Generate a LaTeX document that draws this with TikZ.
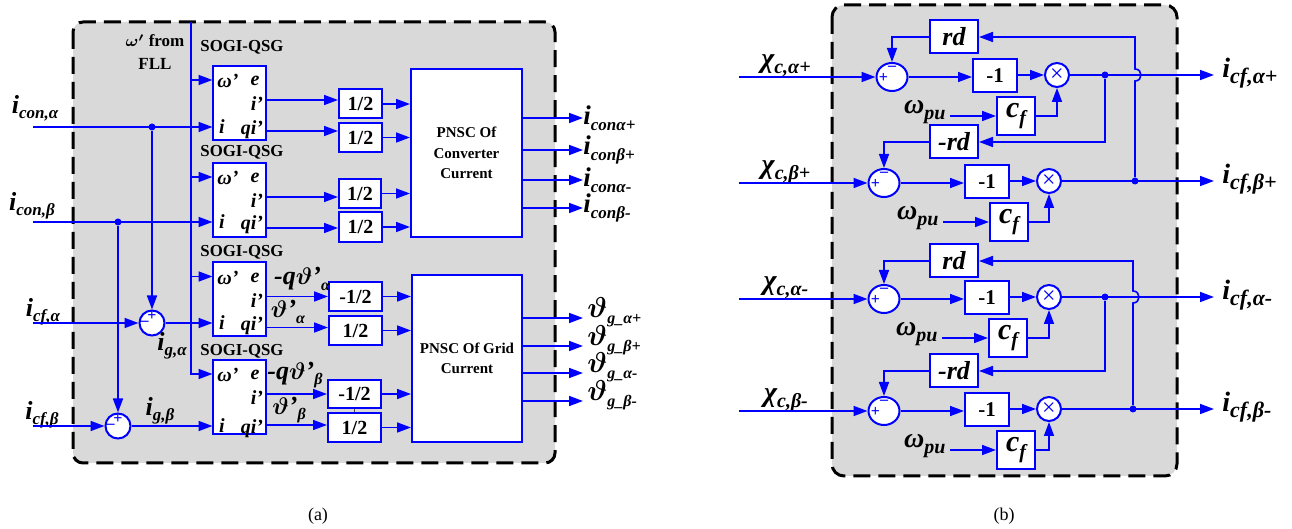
\documentclass[tikz,border=0pt]{standalone}
\usepackage{fontspec}
\setmainfont{Liberation Serif}
\usepackage{amsmath}
\usetikzlibrary{arrows.meta, calc, shapes.geometric}
\definecolor{SogiBlue}{RGB}{0,0,255}
\definecolor{PanelGrey}{RGB}{217,217,217}
\newcommand{\fs}[1]{\fontsize{#1}{#1}\selectfont}
% label with a lowered subscript: main, subscript, subscript size
\newcommand{\vsub}[3]{#1\raisebox{-0.45ex}{\fs{#3}#2}}
\newcommand{\vth}{$\boldsymbol{\vartheta}$}

\begin{document}
\begin{tikzpicture}[x=0.5pt, y=-0.5pt,
    >={Triangle[length=7pt, width=5pt]},
    wire/.style={SogiBlue, line width=0.8pt},
    sz/.style 2 args={minimum width=#1*0.5pt, minimum height=#2*0.5pt},
    blk/.style={draw=SogiBlue, fill=white, line width=1pt, inner sep=0pt},
    panel/.style={draw=black, fill=PanelGrey, line width=1.5pt, rounded corners=5pt, dash pattern=on 8.5pt off 4pt},
    lbl/.style={inner sep=0pt, font=\fs{13}\bfseries\itshape},
    port/.style={inner sep=0pt, font=\fs{10}\bfseries\itshape},
    half/.style={blk, font=\fs{10}\bfseries},
    jdot/.style={circle, fill=SogiBlue, inner sep=0pt, minimum size=3.5pt},
    sumL/.style={blk, circle, sz={25}{25}},
    sumR/.style={blk, ellipse, sz={31}{28}},
    mult/.style={blk, circle, sz={24}{24}},
    sign/.style={inner sep=0pt, text=SogiBlue, font=\fs{8}\bfseries},
]
\useasboundingbox (0,0) rectangle (1292,529);

% ---------------- (a) ----------------
\draw[panel] (73,22) rectangle (555,463);

% omega' bus from the FLL
\node[font=\fontsize{8.5}{11.5}\selectfont\bfseries, align=center, inner sep=0pt] (fll) at (155,52) {$\boldsymbol{\omega'}$ from\\FLL};
\coordinate (busTop) at (191,22);

% SOGI-QSG blocks
\foreach \nm/\cy/\ly/\iy in {A/103/47/127, B/200/152/222, C/299.5/252/323, D/397/351/426} {
  \node[blk, sz={53}{74}] (sogi\nm) at (239,\cy) {};
  \node[font=\fs{8.4}\bfseries, inner sep=0pt] (sogiT\nm) at (242,\ly) {SOGI-QSG};
  \node[port] (pw\nm) at (228,\cy-22) {ω'};
  \node[port] (pe\nm) at (255,\cy-22) {e};
  \node[port] (pip\nm) at (257,\cy+1) {i'};
  \node[port] (pi\nm) at (222,\iy) {i};
  \node[port] (pqi\nm) at (252,\iy+3) {qi'};
  \coordinate (win\nm) at (212.5,\cy-23);
  \coordinate (iin\nm) at (212.5,\iy);
  \coordinate (ip\nm) at (265.5,\cy-3);
  \coordinate (qi\nm) at (265.5,\cy+28);
}
\draw[wire,->] (busTop) |- (winD);
\foreach \nm in {A,B,C} \draw[wire,->] (busTop |- win\nm) -- (win\nm);

% gains
\node[half, sz={43}{29}] (hA1) at (360.5,104) {1/2};
\node[half, sz={43}{29}] (hA2) at (360.5,137.5) {1/2};
\node[half, sz={42}{29}] (hB1) at (360,193.5) {1/2};
\node[half, sz={43}{30}] (hB2) at (360.5,227) {1/2};
\node[half, sz={53}{29}] (hC1) at (355.5,296.5) {-1/2};
\node[half, sz={53}{29}] (hC2) at (355.5,330.5) {1/2};
\node[half, sz={53}{28}] (hD1) at (354.5,394) {-1/2};
\node[half, sz={53}{29}] (hD2) at (354.5,427.5) {1/2};
\draw[gray!60!black, line width=0.5pt] (hD1.south) -- (hD2.north);
\foreach \nm in {A,B,C,D} {
  \draw[wire,->] (ip\nm) -- (ip\nm -| h\nm1.west);
  \draw[wire,->] (qi\nm) -- (qi\nm -| h\nm2.west);
}

% sequence calculation
\node[blk, sz={111}{168}, align=center, font=\fontsize{7.5}{10.2}\selectfont\bfseries] (pnscCon) at (466.5,153) {PNSC Of\\Converter\\Current};
\node[blk, sz={110}{167}, align=center, font=\fontsize{7.5}{10}\selectfont\bfseries] (pnscGrid) at (467,358.5) {PNSC Of Grid\\Current};
\foreach \nm in {A,B} \foreach \j in {1,2}
  \draw[wire,->] (h\nm\j.east) -- (h\nm\j.east -| pnscCon.west);
\foreach \nm in {C,D} \foreach \j in {1,2}
  \draw[wire,->] (h\nm\j.east) -- (h\nm\j.east -| pnscGrid.west);

\node[lbl, anchor=west, font=\fs{13.5}\bfseries\itshape] (oC1) at (583,118) {\vsub{i}{conα+}{8.5}};
\node[lbl, anchor=west, font=\fs{13.5}\bfseries\itshape] (oC2) at (583,150) {\vsub{i}{conβ+}{8.5}};
\node[lbl, anchor=west, font=\fs{13.5}\bfseries\itshape] (oC3) at (583,180) {\vsub{i}{conα-}{8.5}};
\node[lbl, anchor=west, font=\fs{13.5}\bfseries\itshape] (oC4) at (583,208) {\vsub{i}{conβ-}{8.5}};
\foreach \j in {1,...,4} \draw[wire,->] (pnscCon.east |- oC\j.west) -- (oC\j.west);

\node[lbl, anchor=base west, font=\fs{14}\bfseries\itshape] (oG1) at (587,318) {\vsub{\vth}{g\_α+}{8}};
\node[lbl, anchor=base west, font=\fs{14}\bfseries\itshape] (oG2) at (587,346) {\vsub{\vth}{g\_β+}{8}};
\node[lbl, anchor=base west, font=\fs{14}\bfseries\itshape] (oG3) at (587,373) {\vsub{\vth}{g\_α-}{8}};
\node[lbl, anchor=base west, font=\fs{14}\bfseries\itshape] (oG4) at (587,401) {\vsub{\vth}{g\_β-}{8}};
\foreach \j in {1,...,4} \draw[wire,->] (pnscGrid.east |- oG\j.base) -- ([xshift=-2pt]oG\j.base west);

% inputs and grid-current subtraction
\node[lbl] (lCa) at (35,108) {\vsub{i}{con,α}{8.5}};
\node[lbl] (lCb) at (32,206) {\vsub{i}{con,β}{8.5}};
\node[lbl] (lFa) at (43,312) {\vsub{i}{cf,α}{8.5}};
\node[lbl] (lFb) at (42,415) {\vsub{i}{cf,β}{8.5}};
\coordinate (inCa) at (33,127);
\coordinate (inCb) at (33,222);
\coordinate (inFa) at (33,323);
\coordinate (inFb) at (33,426);
\node[sumL] (sg1) at (152,323) {};
\node[sumL] (sg2) at (118,426) {};
\node[sign] (sg1p) at ($(sg1.north)+(0,6)$) {+};
\node[sign] (sg1m) at ($(sg1.west)+(6,0)$) {--};
\node[sign] (sg2p) at ($(sg2.north)+(0,6)$) {+};
\node[sign] (sg2m) at ($(sg2.west)+(6,0)$) {--};
\node[jdot] (dCa) at (152,127) {};
\node[jdot] (dCb) at (118,222) {};
\draw[wire,->] (inCa) -- (iinA);
\draw[wire,->] (inCb) -- (iinB);
\draw[wire,->] (dCa) -- (sg1.north);
\draw[wire,->] (dCb) -- (sg2.north);
\draw[wire,->] (inFa) -- (sg1.west);
\draw[wire,->] (inFb) -- (sg2.west);
\draw[wire,->] (sg1.east) -- (iinC);
\draw[wire,->] (sg2.east) -- (iinD);
\node[lbl] (lga) at (172,346) {\vsub{i}{g,α}{8.5}};
\node[lbl] (lgb) at (160,411) {\vsub{i}{g,β}{8.5}};

\node[lbl, font=\fs{13}\bfseries\itshape] (qa) at (302,279) {\vsub{-q\vth'}{α}{8}};
\node[lbl, font=\fs{13}\bfseries\itshape] (va) at (288,312) {\vsub{\vth'}{α}{8}};
\node[lbl, font=\fs{13}\bfseries\itshape] (qb) at (295,375) {\vsub{-q\vth'}{β}{8}};
\node[lbl, font=\fs{13}\bfseries\itshape] (vb) at (289,410) {\vsub{\vth'}{β}{8}};

% ---------------- (b) ----------------
\draw[panel, rounded corners=6pt] (832,5) rectangle (1177,476);

\foreach \k/\yy/\dx/\cfx/\sb/\fbl/\fby in {1/77/8/1016/α+/rd/37, 2/183/0/1009/β+/-rd/142, 3/299/0/1008/α-/rd/261, 4/411/0/1016/β-/-rd/371} {
  \node[sumR] (rs\k) at (884+\dx,\yy) {};
  \node[sign] (rsp\k) at ($(rs\k.west)+(8,1)$) {+};
  \node[sign] (rsm\k) at ($(rs\k.north)+(0,6)$) {--};
  \node[blk, sz={44}{33}, font=\fs{10.5}\bfseries] (neg\k) at (987+\dx,\yy-1) {-1};
  \node[mult] (mu\k) at (1049+\dx,\yy-2) {};
  \node[sign, font=\fs{12}] (mux\k) at (mu\k) {×};
  \node[blk, sz={38}{38}, font=\fs{15}\bfseries\itshape] (cf\k) at (\cfx,\yy+39) {\vsub{c}{f}{10}};
  \node[lbl, anchor=east, font=\fs{14}\bfseries\itshape] (wpu\k) at (\cfx-70,\yy+35) {\vsub{ω}{pu}{10}};
  \coordinate (ws\k) at (\cfx-66,\yy+39);
  \node[lbl, font=\fs{14}\bfseries\itshape] (chi\k) at (786,\yy-11) {\vsub{χ}{c,\sb}{10}};
  \coordinate (xin\k) at (739,\yy);
  \node[blk, sz={48}{33}, font=\fs{13}\bfseries\itshape] (fb\k) at (954,\fby) {\fbl};
  \coordinate (oe\k) at (1214,\yy-2);
  \node[lbl, anchor=west, font=\fs{14}\bfseries\itshape] (out\k) at (1222,\yy-4) {\vsub{i}{cf,\sb}{11}};
  \draw[wire,->] (xin\k) -- (rs\k.west);
  \draw[wire,->] (rs\k.east) -- (rs\k.east -| neg\k.west);
  \draw[wire,->] (neg\k.east |- mu\k) -- (mu\k.west);
  \draw[wire,->] (ws\k) -- (cf\k.west);
  \draw[wire,->] (cf\k.east) -| (mu\k.south);
  \draw[wire,->] (mu\k.east) -- (oe\k);
  \draw[wire,->] (fb\k.west) -| (rs\k.north);
}

% cross feedback
\node[jdot] (dj1) at (1105,75) {};
\node[jdot] (dj2) at (1135,181) {};
\node[jdot] (dj3) at (1105,297) {};
\node[jdot] (dj4) at (1133,409) {};
\draw[wire,->] (dj1) |- (fb2.east);
\draw[wire,->] (dj3) |- (fb4.east);
\draw[wire,->] (dj2) -- (1135,81) .. controls (1143,81) and (1143,69) .. (1135,69) |- (fb1.east);
\draw[wire,->] (dj4) -- (1133,303) .. controls (1141,303) and (1141,291) .. (1133,291) |- (fb3.east);

\node[font=\fs{9}] (capA) at (318,516) {(a)};
\node[font=\fs{9}] (capB) at (1004,516) {(b)};
\end{tikzpicture}
\end{document}
